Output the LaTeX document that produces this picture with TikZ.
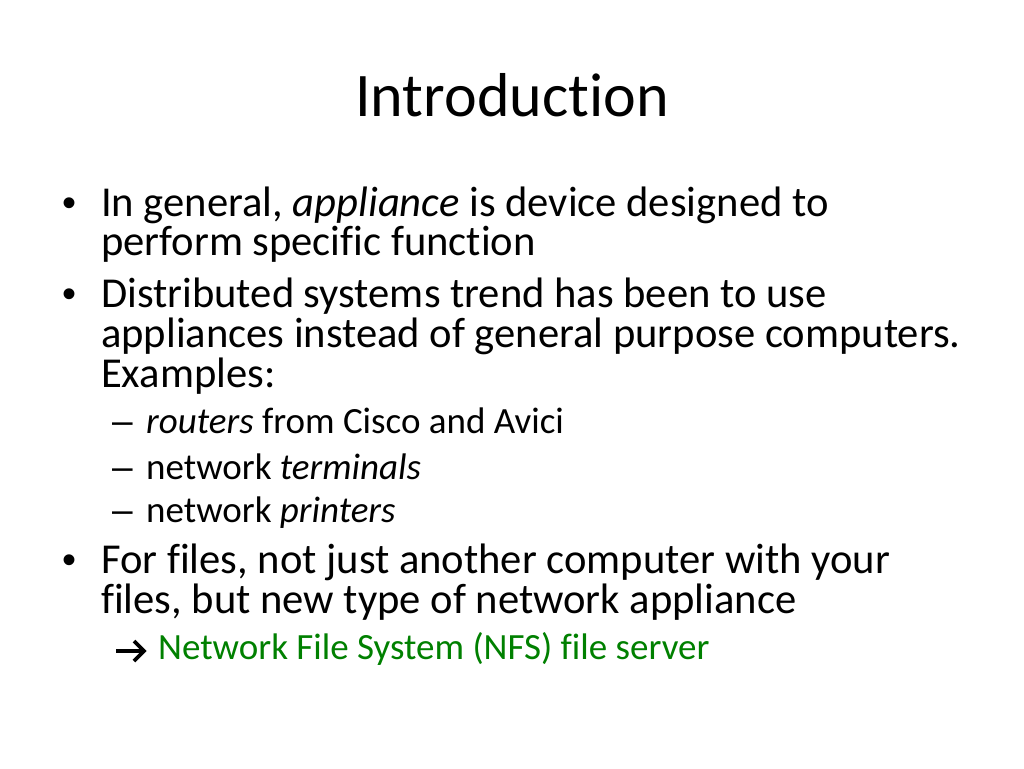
\documentclass[tikz,border=0pt]{standalone}
\usepackage{fontspec}
\setmainfont{Carlito}[Ligatures={NoCommon,NoContextual}]
\newfontfamily\symfont{Liberation Sans}
\usepackage{tikz}
\definecolor{nfsgreen}{RGB}{0,128,0}
\tikzset{
  title/.style={font=\fontsize{62}{70}\selectfont, anchor=base},
  body/.style={font=\fontsize{42.6}{48}\selectfont, anchor=base west, inner sep=0pt},
  sub/.style={font=\fontsize{37}{42}\selectfont, anchor=base west, inner sep=0pt},
  dot/.style={font=\symfont\fontsize{40}{44}\selectfont, anchor=base, inner sep=0pt},
  subdash/.style={font=\symfont\fontsize{37}{42}\selectfont, anchor=base west, inner sep=0pt},
  pointer/.style={line width=3.6pt, line join=miter},
}

\begin{document}
\begin{tikzpicture}[x=1pt, y=-1pt]
		%%%%% START %%%%%
		\useasboundingbox (0, 0) rectangle (1024, 768);
		
		\node[title] (title) at (512, 116) {Introduction};
		
		% first bullet
		\node[dot] (b1) at (70, 216) {•};
		\node[body] (l1) at (101, 216) {In general, \textit{appliance} is device designed to};
		\node[body] (l2) at (101, 255) {perform specific function};
		
		% second bullet
		\node[dot] (b2) at (70, 307) {•};
		\node[body] (l3) at (101, 307) {Distributed systems trend has been to use};
		\node[body] (l4) at (101, 347) {appliances instead of general purpose computers.};
		\node[body] (l5) at (101, 387) {Examples:};
		
		\node[subdash] (d1) at (112, 433) {–};
		\node[sub] (s1) at (146, 433) {\textit{routers} from Cisco and Avici};
		\node[subdash] (d2) at (112, 479) {–};
		\node[sub] (s2) at (146, 479) {network \textit{terminals}};
		\node[subdash] (d3) at (112, 522) {–};
		\node[sub] (s3) at (146, 522) {network \textit{printers}};
		
		% third bullet
		\node[dot] (b3) at (70, 573) {•};
		\node[body] (l6) at (101, 573) {For files, not just another computer with your};
		\node[body] (l7) at (101, 613) {files, but new type of network appliance};
		
		\coordinate (a0) at (116, 651);
		\coordinate (a1) at (144, 651);
		\draw[pointer] (a0) -- (a1);
		\draw[pointer] (a1) ++(-10, -10) -- (a1) -- ++(-10, 10);
		\node[sub, text=nfsgreen] (nfs) at (158, 659) {Network File System (NFS) file server};
		
		%%%%% END %%%%%
	\end{tikzpicture}
\end{document}
